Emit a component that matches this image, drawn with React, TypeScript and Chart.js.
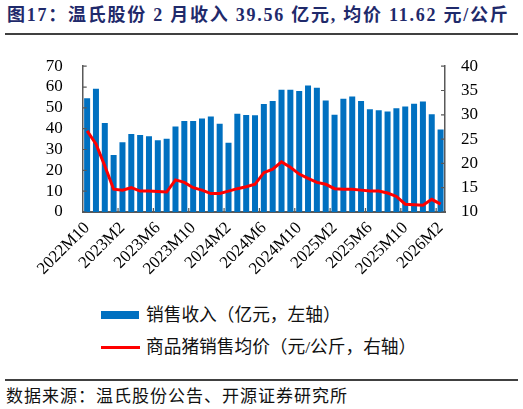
import React, { useEffect, useRef } from 'react';
import Chart from 'chart.js/auto';

const months = [
    '2022M10', '2022M11', '2022M12',
    '2023M1', '2023M2', '2023M3', '2023M4', '2023M5', '2023M6', '2023M7', '2023M8', '2023M9', '2023M10', '2023M11', '2023M12',
    '2024M1', '2024M2', '2024M3', '2024M4', '2024M5', '2024M6', '2024M7', '2024M8', '2024M9', '2024M10', '2024M11', '2024M12',
    '2025M1', '2025M2', '2025M3', '2025M4', '2025M5', '2025M6', '2025M7', '2025M8', '2025M9', '2025M10', '2025M11', '2025M12',
    '2026M1', '2026M2'
];

// 销售收入（亿元）
const revenue = [
    54.6, 59.2, 42.7,
    27.4, 33.5, 37.4, 37.0, 36.4, 34.5, 35.2, 41.1, 43.7, 43.7, 44.9, 45.9,
    42.4, 33.2, 47.2, 46.6, 46.5, 51.8, 53.3, 58.7, 58.7, 58.1, 60.7, 59.7,
    53.5, 46.7, 54.4, 55.4, 53.3, 49.3, 48.8, 48.2, 49.8, 50.6, 52.0, 53.0,
    46.9, 39.56
];

// 商品猪销售均价（元/公斤）
const hogPrice = [
    26.7, 24.0, 19.5,
    14.7, 14.5, 15.0, 14.3, 14.3, 14.2, 14.1, 16.6, 16.1, 15.0, 14.5, 13.8,
    13.8, 14.3, 14.8, 15.2, 15.7, 18.1, 18.8, 20.3, 19.2, 17.8, 16.9, 16.1,
    15.7, 14.8, 14.7, 14.7, 14.5, 14.3, 14.3, 13.9, 13.2, 11.6, 11.5, 11.4,
    12.6, 11.62
];

const leftTicks = [0, 10, 20, 30, 40, 50, 60, 70];
const rightTicks = [10, 15, 20, 25, 30, 35, 40];

const AXIS_COLOR = '#595959';
const tickFont = { family: '"Liberation Serif", "Times New Roman", serif', size: 17 };
const cjk = '"Liberation Serif", "Noto Sans CJK SC", sans-serif';

// inward tick marks, like the original
const innerTicks = {
    id: 'innerTicks',
    afterDraw(chart: any) {
        const { ctx, chartArea, scales } = chart;
        ctx.save();
        ctx.strokeStyle = AXIS_COLOR;
        ctx.lineWidth = 1.2;
        ctx.beginPath();
        leftTicks.forEach((v) => {
            const y = scales.y.getPixelForValue(v);
            ctx.moveTo(chartArea.left, y);
            ctx.lineTo(chartArea.left + 4, y);
        });
        rightTicks.forEach((v) => {
            const y = scales.y1.getPixelForValue(v);
            ctx.moveTo(chartArea.right, y);
            ctx.lineTo(chartArea.right - 4, y);
        });
        for (let i = 4; i < months.length; i += 4) {
            const x = (scales.x.getPixelForValue(i - 1) + scales.x.getPixelForValue(i)) / 2;
            ctx.moveTo(x, chartArea.bottom);
            ctx.lineTo(x, chartArea.bottom - 4);
        }
        ctx.stroke();
        ctx.restore();
    }
};

const RevenueChart: React.FC = () => {
    const chartRef = useRef<HTMLCanvasElement>(null);
    const chartInstanceRef = useRef<Chart | null>(null);

    useEffect(() => {
        if (!chartRef.current) return;
        if (chartInstanceRef.current) chartInstanceRef.current.destroy();
        const ctx = chartRef.current.getContext('2d');
        if (!ctx) return;

        chartInstanceRef.current = new Chart(ctx, {
            type: 'bar',
            data: {
                labels: months,
                datasets: [
                    {
                        type: 'line',
                        label: '商品猪销售均价（元/公斤，右轴）',
                        data: hogPrice,
                        yAxisID: 'y1',
                        borderColor: '#FF0000',
                        borderWidth: 3,
                        pointRadius: 0,
                        tension: 0,
                        order: 0
                    } as any,
                    {
                        type: 'bar',
                        label: '销售收入（亿元，左轴）',
                        data: revenue,
                        yAxisID: 'y',
                        backgroundColor: '#0070C0',
                        barPercentage: 0.68,
                        categoryPercentage: 1,
                        order: 1
                    }
                ]
            },
            options: {
                animation: false,
                responsive: true,
                maintainAspectRatio: false,
                layout: { padding: 0 },
                plugins: {
                    legend: { display: false },
                    tooltip: { enabled: false }
                },
                scales: {
                    x: {
                        grid: { display: false, drawTicks: false },
                        border: { display: true, color: AXIS_COLOR, width: 2 },
                        ticks: {
                            autoSkip: false,
                            minRotation: 45,
                            maxRotation: 45,
                            padding: 6,
                            color: '#000',
                            font: tickFont,
                            callback: (_v: any, i: number) => (i % 4 === 0 ? months[i] : '')
                        },
                        afterFit: (scale: any) => { scale.height = 78.5; }
                    },
                    y: {
                        position: 'left',
                        min: 0,
                        max: 70,
                        grid: { display: false, drawTicks: false },
                        border: { display: true, color: AXIS_COLOR, width: 1.5 },
                        ticks: { stepSize: 10, autoSkip: false, padding: 20, color: '#000', font: tickFont },
                        afterFit: (scale: any) => { scale.width = 82.7; }
                    },
                    y1: {
                        position: 'right',
                        min: 10,
                        max: 40,
                        grid: { display: false, drawTicks: false },
                        border: { display: true, color: AXIS_COLOR, width: 1.5 },
                        ticks: { stepSize: 5, autoSkip: false, padding: 16, color: '#000', font: tickFont },
                        afterFit: (scale: any) => { scale.width = 78; }
                    }
                }
            },
            plugins: [innerTicks]
        });

        return () => {
            if (chartInstanceRef.current) {
                chartInstanceRef.current.destroy();
                chartInstanceRef.current = null;
            }
        };
    }, []);

    return (
        <div style={{ position: 'absolute', left: 0, top: 35.5, width: 523, height: 254.5 }}>
            <canvas ref={chartRef}></canvas>
        </div>
    );
};

const App: React.FC = () => {
    const legendText = { fontFamily: cjk, fontSize: 17.7, color: '#111', whiteSpace: 'nowrap' as const };
    return (
        <div style={{ position: 'fixed', left: 0, top: 0, width: 523, height: 409, background: '#fff', overflow: 'hidden' }}>
            <div style={{
                position: 'absolute', left: 7, top: 3, fontFamily: cjk, fontWeight: 'bold', fontSize: 18,
                letterSpacing: 1.75, color: '#1F2A6B', whiteSpace: 'nowrap', lineHeight: '24px'
            }}>
                图17：温氏股份 2 月收入 39.56 亿元, 均价 11.62 元/公斤
            </div>
            <div style={{ position: 'absolute', left: 5, top: 33, width: 513, height: 1.5, background: '#404040' }} />

            <RevenueChart />

            <div style={{ position: 'absolute', left: 101, top: 311, width: 38, height: 8, background: '#0070C0' }} />
            <div style={{ ...legendText, position: 'absolute', left: 146, top: 303, lineHeight: '24px' }}>
                销售收入（亿元，左轴）
            </div>
            <div style={{ position: 'absolute', left: 101, top: 345.5, width: 39, height: 3, background: '#FF0000' }} />
            <div style={{ ...legendText, position: 'absolute', left: 146, top: 335, lineHeight: '24px' }}>
                商品猪销售均价（元/公斤，右轴）
            </div>

            <div style={{ position: 'absolute', left: 5, top: 379, width: 513, height: 1.5, background: '#404040' }} />
            <div style={{
                position: 'absolute', left: 6, top: 385, fontFamily: cjk, fontSize: 17, letterSpacing: 1.0,
                color: '#111', whiteSpace: 'nowrap', lineHeight: '24px'
            }}>
                数据来源：温氏股份公告、开源证券研究所
            </div>
        </div>
    );
};

export default App;
